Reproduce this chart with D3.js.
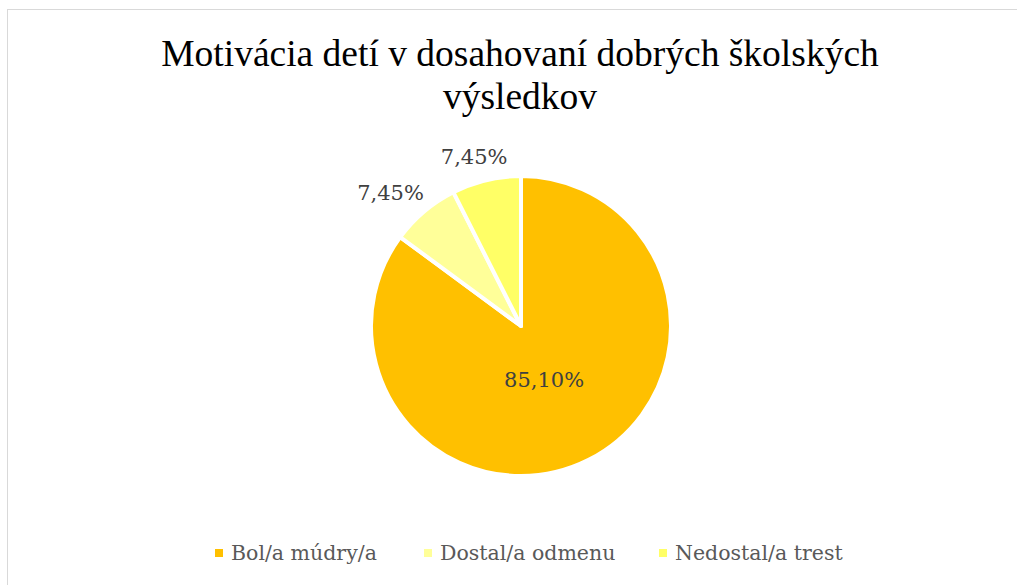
<!DOCTYPE html>
<html>
<head>
<meta charset="utf-8">
<script src="https://cdn.jsdelivr.net/npm/d3@7"></script>
<style>
  body { margin: 0; background: #fff; }
</style>
</head>
<body>
<div id="chart"></div>
<script>
const width = 1017;
const height = 585;

const categories = ["Bol/a múdry/a", "Dostal/a odmenu", "Nedostal/a trest"];
const values = [85.10, 7.45, 7.45];
const labels = ["85,10%", "7,45%", "7,45%"];
const colors = ["#FFC000", "#FFFF99", "#FFFF66"];

const cx = 521, cy = 326, radius = 150;

const svg = d3.select("#chart").append("svg")
    .attr("width", width)
    .attr("height", height);

// chart area border
svg.append("rect")
    .attr("x", 7.5).attr("y", 9.5)
    .attr("width", width).attr("height", height)
    .attr("fill", "#fff")
    .attr("stroke", "#d9d9d9")
    .attr("stroke-width", 1);

// title
const title = svg.append("text")
    .attr("text-anchor", "middle")
    .attr("font-family", "Liberation Serif, Times New Roman, serif")
    .attr("font-size", 37.5)
    .attr("fill", "#000");
title.append("tspan").attr("x", 520).attr("y", 66).text("Motivácia detí v dosahovaní dobrých školských");
title.append("tspan").attr("x", 520).attr("y", 109).text("výsledkov");

const data = categories.map((c, i) => ({ name: c, value: values[i], label: labels[i], color: colors[i] }));

const pie = d3.pie().value(d => d.value).sort(null);
const arc = d3.arc().innerRadius(0).outerRadius(radius);
const arcs = pie(data);

const g = svg.append("g").attr("transform", `translate(${cx},${cy})`);

g.selectAll("path")
    .data(arcs)
    .join("path")
    .attr("d", arc)
    .attr("fill", d => d.data.color)
    .attr("stroke", "#fff")
    .attr("stroke-width", 4)
    .attr("stroke-linejoin", "round");

// data labels
const labelFont = "DejaVu Serif, serif";
g.selectAll("text.lbl")
    .data(arcs)
    .join("text")
    .attr("class", "lbl")
    .attr("font-family", labelFont)
    .attr("font-size", 21)
    .attr("fill", "#404040")
    .attr("text-anchor", "middle")
    .attr("dominant-baseline", "central")
    .attr("transform", (d, i) => {
        const a = (d.startAngle + d.endAngle) / 2;
        if (i === 0) {
            const r = 60;
            return `translate(${r * Math.sin(a) - 4},${-r * Math.cos(a)})`;
        }
        const r = 164, w = 76, h = 20;
        const x = r * Math.sin(a) + (w / 2) * Math.sin(a);
        const y = -r * Math.cos(a) - (h / 2) * Math.cos(a);
        return `translate(${x},${y})`;
    })
    .text(d => d.data.label);

// legend
const legendX = [215, 424, 659];
const legend = svg.append("g");
const items = legend.selectAll("g")
    .data(data)
    .join("g")
    .attr("transform", (d, i) => `translate(${legendX[i]},553)`);
items.append("rect")
    .attr("x", 0).attr("y", -4)
    .attr("width", 8).attr("height", 8)
    .attr("fill", d => d.color);
items.append("text")
    .attr("x", 16)
    .attr("y", 0)
    .attr("dominant-baseline", "central")
    .attr("font-family", labelFont)
    .attr("font-size", 20.5)
    .attr("fill", "#595959")
    .text(d => d.name);
</script>
</body>
</html>
